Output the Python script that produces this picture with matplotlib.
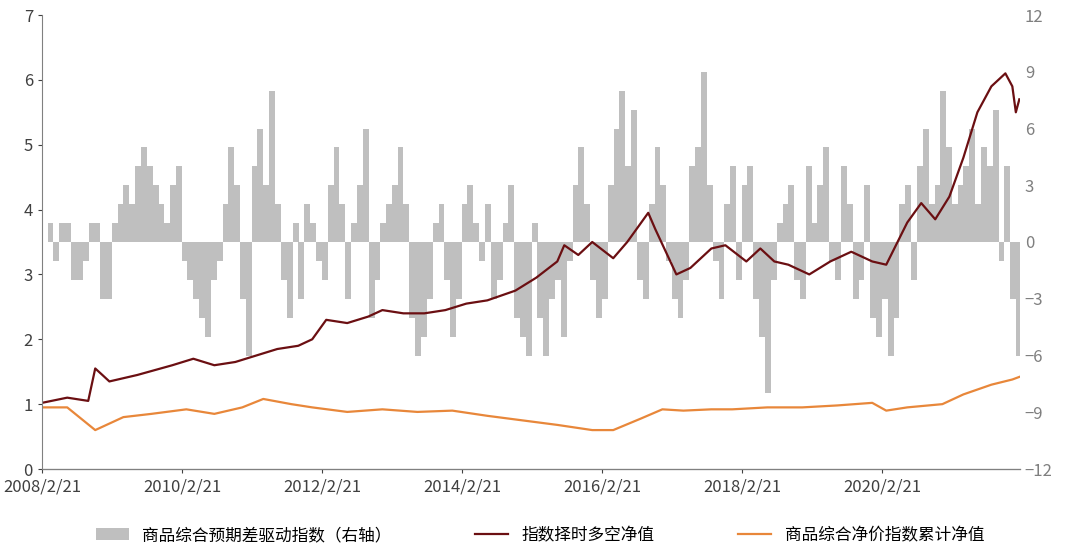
import matplotlib
matplotlib.use("Agg")
import matplotlib.pyplot as plt
import matplotlib.dates as mdates
import numpy as np
import pandas as pd

plt.rcParams['font.family'] = ['Noto Sans CJK SC', 'DejaVu Sans']

# Timing long-short NAV (dark red), anchor dates as fractional years
ls_t = [2008.14,2008.5,2008.8,2008.9,2009.0,2009.1,2009.5,2010.0,2010.3,2010.6,2010.9,2011.2,2011.5,2011.8,2012.0,2012.2,2012.5,2012.8,2013.0,2013.3,2013.6,2013.9,2014.2,2014.5,2014.9,2015.2,2015.5,2015.6,2015.8,2016.0,2016.3,2016.5,2016.8,2016.9,2017.2,2017.4,2017.7,2017.9,2018.2,2018.4,2018.6,2018.8,2019.1,2019.4,2019.7,2020.0,2020.2,2020.5,2020.7,2020.9,2021.1,2021.3,2021.5,2021.7,2021.9,2022.0,2022.05,2022.1]
ls_v = [1.02,1.1,1.05,1.55,1.45,1.35,1.45,1.6,1.7,1.6,1.65,1.75,1.85,1.9,2.0,2.3,2.25,2.35,2.45,2.4,2.4,2.45,2.55,2.6,2.75,2.95,3.2,3.45,3.3,3.5,3.25,3.5,3.95,3.7,3.0,3.1,3.4,3.45,3.2,3.4,3.2,3.15,3.0,3.2,3.35,3.2,3.15,3.8,4.1,3.85,4.2,4.8,5.5,5.9,6.1,5.9,5.5,5.7]
# Commodity net price index cumulative NAV (orange)
cm_t = [2008.14,2008.5,2008.9,2009.3,2009.7,2010.2,2010.6,2011.0,2011.3,2011.7,2012.0,2012.5,2013.0,2013.5,2014.0,2014.5,2015.0,2015.5,2016.0,2016.3,2016.7,2017.0,2017.3,2017.7,2018.0,2018.5,2019.0,2019.5,2020.0,2020.2,2020.5,2021.0,2021.3,2021.7,2022.0,2022.1]
cm_v = [0.95,0.95,0.6,0.8,0.85,0.92,0.85,0.95,1.08,1.0,0.95,0.88,0.92,0.88,0.9,0.82,0.75,0.68,0.6,0.6,0.78,0.92,0.9,0.92,0.92,0.95,0.95,0.98,1.02,0.9,0.95,1.0,1.15,1.3,1.38,1.42]
# Expectation-gap driver index (monthly, right axis), from 2008-02
bar_v = [1,-1,1,1,-2,-2,-1,1,1,-3,-3,
         1,2,3,2,4,5,4,3,2,1,3,4,
         -1,-2,-3,-4,-5,-2,-1,2,5,3,-3,-6,
         4,6,3,8,2,-2,-4,1,-3,2,1,-1,
         -2,3,5,2,-3,1,3,6,-4,-2,1,2,
         3,5,2,-4,-6,-5,-3,1,2,-2,-5,-3,
         2,3,1,-1,2,-3,-2,1,3,-4,-5,-6,
         1,-4,-6,-3,-2,-5,-1,3,5,2,-2,-4,
         -3,3,6,8,4,7,-2,-3,2,5,3,-1,
         -3,-4,-2,4,5,9,3,-1,-3,2,4,-2,
         3,4,-3,-5,-8,-2,1,2,3,-2,-3,4,
         1,3,5,-1,-2,4,2,-3,-2,3,-4,-5,
         -3,-6,-4,2,3,-2,4,6,2,3,8,5,
         2,3,4,6,2,5,4,7,-1,4,-3,-6,
         -8,-11]

def fy(t):
    t = np.asarray(t)
    y = np.floor(t).astype(int)
    return [pd.Timestamp(f"{a}-01-01") + pd.Timedelta(days=float((b - a) * 365.25)) for a, b in zip(y, t)]

bar_d = pd.date_range("2008-02-21", periods=len(bar_v), freq="MS") + pd.Timedelta(days=20)

fig = plt.figure(figsize=(10.8, 5.59), dpi=100)
ax = fig.add_axes([42/1080, 90/559, 978/1080, 454/559])
ax2 = ax.twinx()
ax.set_zorder(ax2.get_zorder() + 1); ax.patch.set_visible(False)

ax2.bar(bar_d, bar_v, width=31, color='#bfbfbf', align='edge', label='商品综合预期差驱动指数（右轴）')
l1, = ax.plot(fy(ls_t), ls_v, color='#6b0f12', lw=1.6, label='指数择时多空净值')
l2, = ax.plot(fy(cm_t), cm_v, color='#e8873a', lw=1.6, label='商品综合净价指数累计净值')

ax.set_ylim(0, 7); ax2.set_ylim(-12, 12)
ax2.set_yticks(range(-12, 13, 3))
xmin, xmax = pd.Timestamp("2008-02-21"), pd.Timestamp("2022-02-10")
ax.set_xlim(xmin, xmax)
ticks = [pd.Timestamp(f"{y}-02-21") for y in range(2008, 2022, 2)]
ax.set_xticks(ticks); ax.set_xticklabels([f"{t.year}/2/21" for t in ticks])
for a in (ax, ax2):
    a.spines['top'].set_visible(False)
    a.tick_params(labelsize=12, colors='#404040', length=3)
ax2.spines['right'].set_visible(False); ax2.spines['left'].set_visible(False)
ax2.tick_params(axis='y', colors='#7f7f7f', length=0)
ax.spines['right'].set_visible(False)
ax.spines['left'].set_color('#808080'); ax.spines['bottom'].set_color('#808080')

h = [ax2.containers[0], l1, l2]
fig.legend(h, [x.get_label() for x in h], loc='lower center', ncol=3, frameon=False,
           fontsize=12, bbox_to_anchor=(0.5, 0.0), columnspacing=5)
fig.savefig("out.png", dpi=100)
